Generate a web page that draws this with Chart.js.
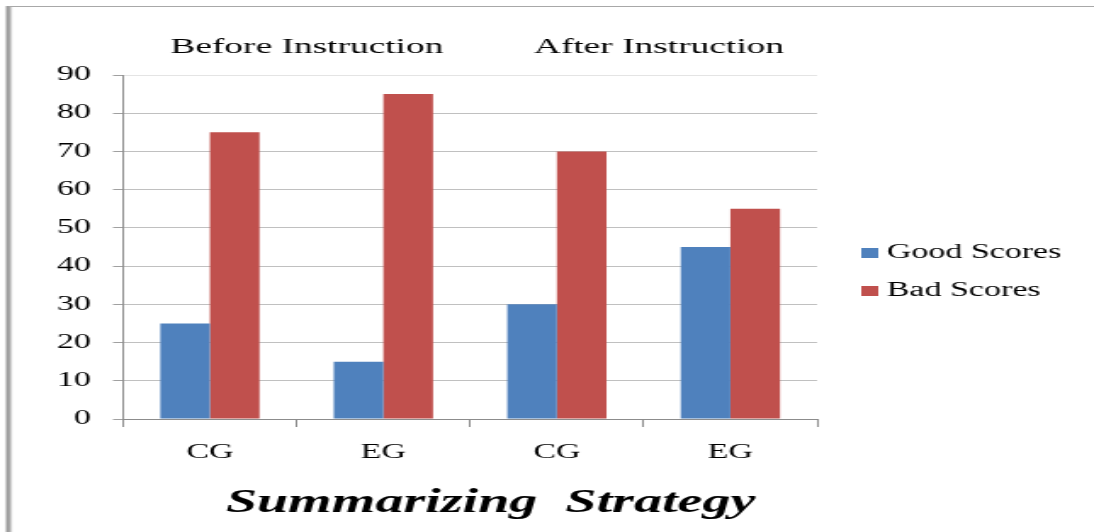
<!DOCTYPE html>
<html>
<head>
<meta charset="utf-8">
<script src="https://cdn.jsdelivr.net/npm/chart.js@4.4.1/dist/chart.umd.min.js"></script>
<style>
  html, body { margin: 0; padding: 0; background: #fff; }
  #scoreChart { display: block; }
</style>
</head>
<body>
<!-- drawn on a narrow canvas and widened by CSS, so the serif text comes out stretched -->
<canvas id="scoreChart" width="644" height="532" style="width:1094px;height:532px"></canvas>
<script>
const groups = ['CG', 'EG', 'CG', 'EG'];
const phases = ['Before Instruction', 'After Instruction'];
const goodScores = [25, 15, 30, 45];
const badScores = [75, 85, 70, 55];
const yMax = 90;
const yStep = 10;
const axisTitle = 'Summarizing  Strategy';

const SERIF = "'Liberation Serif', 'DejaVu Serif', serif";

// grey frame on the left and top edges
const framePlugin = {
    id: 'frame',
    beforeDraw(chart) {
        const { ctx, width, height } = chart;
        ctx.save();
        ctx.fillStyle = '#9a9a9a';
        ctx.fillRect(3.5, 6, 2.4, height - 6);
        ctx.fillStyle = '#d0d0d0';
        ctx.fillRect(5.9, 6, 1.2, height - 6);
        ctx.fillStyle = '#a8a8a8';
        ctx.fillRect(5, 6, width - 5, 1);
        ctx.restore();
    }
};

// "Before / After Instruction" headings over each pair of groups,
// plus the big italic caption under the category labels
const textPlugin = {
    id: 'phases',
    afterDraw(chart) {
        const { ctx, chartArea } = chart;
        const x = chart.scales.x;
        ctx.save();
        ctx.font = `22px ${SERIF}`;
        ctx.fillStyle = '#000';
        ctx.textAlign = 'center';
        ctx.textBaseline = 'alphabetic';
        phases.forEach((p, i) => {
            const cx = x.getPixelForValue(i * 2 + 0.5) + 6 + i * 3;
            ctx.fillText(p, cx, 53);
        });

        ctx.font = `italic bold 33px ${SERIF}`;
        ctx.fillText(axisTitle, (chartArea.left + chartArea.right) / 2 + 12, 512);
        ctx.restore();
    }
};

// legend drawn beside the plot
const sideLegend = {
    id: 'sideLegend',
    afterDraw(chart) {
        const { ctx } = chart;
        const left = chart.chartArea.right + 26;
        ctx.save();
        ctx.font = `20px ${SERIF}`;
        ctx.textBaseline = 'middle';
        ctx.textAlign = 'left';
        chart.data.datasets.forEach((ds, i) => {
            const cy = 253 + i * 38;
            ctx.fillStyle = ds.backgroundColor;
            ctx.fillRect(left, cy - 5, 10, 10);
            ctx.fillStyle = '#000';
            ctx.fillText(ds.label, left + 15, cy);
        });
        ctx.restore();
    }
};

new Chart(document.getElementById('scoreChart'), {
    type: 'bar',
    data: {
        labels: groups,
        datasets: [
            { label: 'Good Scores', data: goodScores, backgroundColor: '#4F81BD' },
            { label: 'Bad Scores', data: badScores, backgroundColor: '#C0504D' }
        ]
    },
    options: {
        responsive: false,
        animation: false,
        devicePixelRatio: 1,
        barPercentage: 1,
        categoryPercentage: 0.572,
        layout: { padding: { left: 20.5, right: 163, top: 75, bottom: 53 } },
        plugins: {
            legend: { display: false },
            tooltip: { enabled: false }
        },
        scales: {
            x: {
                ticks: { color: '#000', font: { family: SERIF, size: 20 }, padding: 14 },
                grid: { drawOnChartArea: false, tickLength: 8, color: '#8c8c8c' },
                border: { color: '#8c8c8c' }
            },
            y: {
                min: 0,
                max: yMax,
                ticks: { stepSize: yStep, color: '#000', font: { family: SERIF, size: 20 }, padding: 13 },
                grid: {
                    color: c => (c.tick && c.tick.value === yMax ? '#e4e4e4' : '#c0c0c0'),
                    tickColor: '#a0a0a0',
                    tickLength: 6
                },
                border: { color: '#8c8c8c' }
            }
        }
    },
    plugins: [framePlugin, textPlugin, sideLegend]
});
</script>
</body>
</html>
